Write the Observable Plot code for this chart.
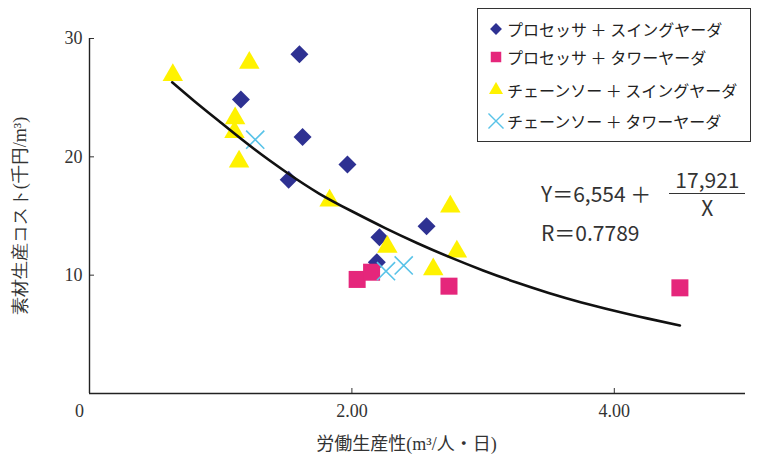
<!DOCTYPE html>
<html>
<head>
<meta charset="utf-8">
<script src="https://cdn.jsdelivr.net/npm/d3@7"></script>
<script src="https://cdn.jsdelivr.net/npm/@observablehq/plot@0.6"></script>
<style>
  html, body { margin: 0; padding: 0; background: #fff; }
  #wrap { position: relative; width: 763px; height: 463px; overflow: hidden; }
  #legend { position: absolute; left: 477px; top: 8px; width: 274px; height: 134px; border: 1.5px solid #333; box-sizing: border-box; font-family: "Noto Sans CJK JP", sans-serif; font-size: 16px; color: #222; }
  .row { position: absolute; left: 10px; display: flex; align-items: center; height: 22px; white-space: pre; }
  .row svg { margin-right: 3px; }
  #eq { position: absolute; left: 541px; top: 169px; font-family: "Noto Sans CJK JP", "Noto Sans", sans-serif; font-size: 21px; color: #333; line-height: 1; }
  .frac { display: inline-flex; flex-direction: column; align-items: center; vertical-align: middle; margin-left: 18px; }
  .frac .num { border-bottom: 1.5px solid #333; padding: 0 6px 3px 6px; }
  .frac .den { padding-top: 3px; }
</style>
</head>
<body>
<div id="wrap"></div>
<script>
// ---- data ----
const seriesNames = ["プロセッサ ＋ スイングヤーダ", "プロセッサ ＋ タワーヤーダ", "チェーンソー ＋ スイングヤーダ", "チェーンソー ＋ タワーヤーダ"];

const procSwingX = [1.60, 1.154, 1.624, 1.518, 1.966, 2.569, 2.21, 2.19];
const procSwingY = [28.66, 24.85, 21.67, 18.06, 19.36, 14.14, 13.21, 11.1];

const procTowerX = [2.04, 2.15, 2.74, 4.50];
const procTowerY = [9.64, 10.25, 9.07, 8.93];

const sawSwingX = [0.635, 1.218, 1.11, 1.105, 1.14, 1.83, 2.75, 2.27, 2.80, 2.62];
const sawSwingY = [26.9, 27.95, 23.25, 22.1, 19.6, 16.3, 15.8, 12.4, 12.0, 10.5];

const sawTowerX = [1.263, 2.26, 2.395];
const sawTowerY = [21.45, 10.34, 10.82];

// fitted curve as drawn in the picture
const curveX = [0.63, 0.8, 1.0, 1.25, 1.5, 1.75, 2.0, 2.25, 2.5, 2.75, 3.0, 3.25, 3.5, 3.75, 4.0, 4.25, 4.5];
const curveY = [26.3, 24.7, 22.9, 20.7, 18.7, 16.9, 15.4, 14.0, 12.7, 11.5, 10.4, 9.4, 8.5, 7.7, 7.0, 6.35, 5.75];

const xTicks = [2, 4];
const yTicks = [10, 20, 30];
const xTitle = "労働生産性(m³/人・日)";
const yTitle = "素材生産コスト(千円/m³)";
const eqConst = "6,554";
const eqNum = "17,921";
const eqR = "0.7789";

// ---- build tables ----
const zip = (xs, ys) => xs.map((x, i) => ({x, y: ys[i]}));
const dProcSwing = zip(procSwingX, procSwingY);
const dProcTower = zip(procTowerX, procTowerY);
const dSawSwing = zip(sawSwingX, sawSwingY);
const dSawTower = zip(sawTowerX, sawTowerY);
const dCurve = zip(curveX, curveY);

const colors = {navy: "#2e3192", pink: "#e5267b", yellow: "#fff200", cyan: "#59c3e8"};
const numFont = "'Liberation Serif', 'DejaVu Serif', serif";
const titleFont = "'Liberation Serif', 'Noto Sans CJK JP', serif";

const plot = Plot.plot({
  width: 763,
  height: 463,
  marginLeft: 89,
  marginRight: 18,
  marginTop: 38,
  marginBottom: 70,
  x: {domain: [0, 5]},
  y: {domain: [0, 30]},
  style: {background: "white", color: "#333", fontFamily: titleFont},
  marks: [
    Plot.axisY({ticks: yTicks, tickSize: 0, tickPadding: 7, fontSize: 18, fontFamily: numFont,
      label: yTitle, labelAnchor: "center", labelArrow: "none", labelOffset: 76}),
    Plot.axisY({ticks: yTicks, tickSize: 5, dx: 5, text: null, label: null, stroke: "#333"}),
    Plot.axisX({ticks: xTicks, tickSize: 0, tickPadding: 11, fontSize: 18, fontFamily: numFont,
      tickFormat: d => d.toFixed(2), label: null}),
    Plot.axisX({ticks: xTicks, tickSize: 5, dy: -5, text: null, label: null, stroke: "#333"}),
    Plot.text([xTitle], {frameAnchor: "bottom", text: d => d, dx: -11, dy: 56, fontSize: 18, fill: "#333"}),
    Plot.text([0], {x: d => d, y: d => d, text: d => String(d), dx: -10, dy: 18, fontSize: 18, fontFamily: numFont, fill: "#333"}),
    Plot.ruleX([0], {stroke: "#222", strokeWidth: 1.4}),
    Plot.ruleY([0], {stroke: "#222", strokeWidth: 1.4}),
    Plot.dot(dProcSwing, {x: "x", y: "y", symbol: "diamond2", r: 8.1, fill: colors.navy, stroke: "none"}),
    Plot.dot(dProcTower, {x: "x", y: "y", symbol: "square", r: 9.6, fill: colors.pink, stroke: "none"}),
    Plot.dot(dSawSwing, {x: "x", y: "y", symbol: "triangle", r: 7.6, fill: colors.yellow, stroke: "none"}),
    Plot.dot(dSawTower, {x: "x", y: "y", symbol: "times", r: 8.3, fill: "none", stroke: colors.cyan, strokeWidth: 1.6}),
    Plot.line(dCurve, {x: "x", y: "y", curve: "natural", stroke: "#111", strokeWidth: 2.6})
  ]
});

const wrap = document.getElementById("wrap");
wrap.appendChild(plot);

// ---- legend ----
const legend = document.createElement("div");
legend.id = "legend";
const legendSymbols = [
  {type: d3.symbolDiamond2, size: 90, fill: colors.navy, stroke: "none"},
  {type: d3.symbolSquare, size: 110, fill: colors.pink, stroke: "none"},
  {type: d3.symbolTriangle, size: 85, fill: colors.yellow, stroke: "none"},
  {type: d3.symbolTimes, size: 150, fill: "none", stroke: colors.cyan}
];
const rowTops = [9, 37, 70, 101];
seriesNames.forEach((name, i) => {
  const row = document.createElement("div");
  row.className = "row";
  row.style.top = rowTops[i] + "px";
  const s = legendSymbols[i];
  const svg = d3.create("svg").attr("width", 16).attr("height", 16);
  svg.append("path")
    .attr("transform", "translate(8,8)")
    .attr("d", d3.symbol(s.type, s.size)())
    .attr("fill", s.fill)
    .attr("stroke", s.stroke)
    .attr("stroke-width", 1.4);
  row.appendChild(svg.node());
  const t = document.createElement("span");
  t.textContent = name;
  row.appendChild(t);
  legend.appendChild(row);
});
wrap.appendChild(legend);

// ---- regression equation ----
const eq = document.createElement("div");
eq.id = "eq";
eq.innerHTML = `<div style="display:flex;align-items:center;"><span>Y＝${eqConst} ＋</span><span class="frac"><span class="num">${eqNum}</span><span class="den">X</span></span></div><div style="margin-top:4px;">R＝${eqR}</div>`;
wrap.appendChild(eq);
</script>
</body>
</html>
